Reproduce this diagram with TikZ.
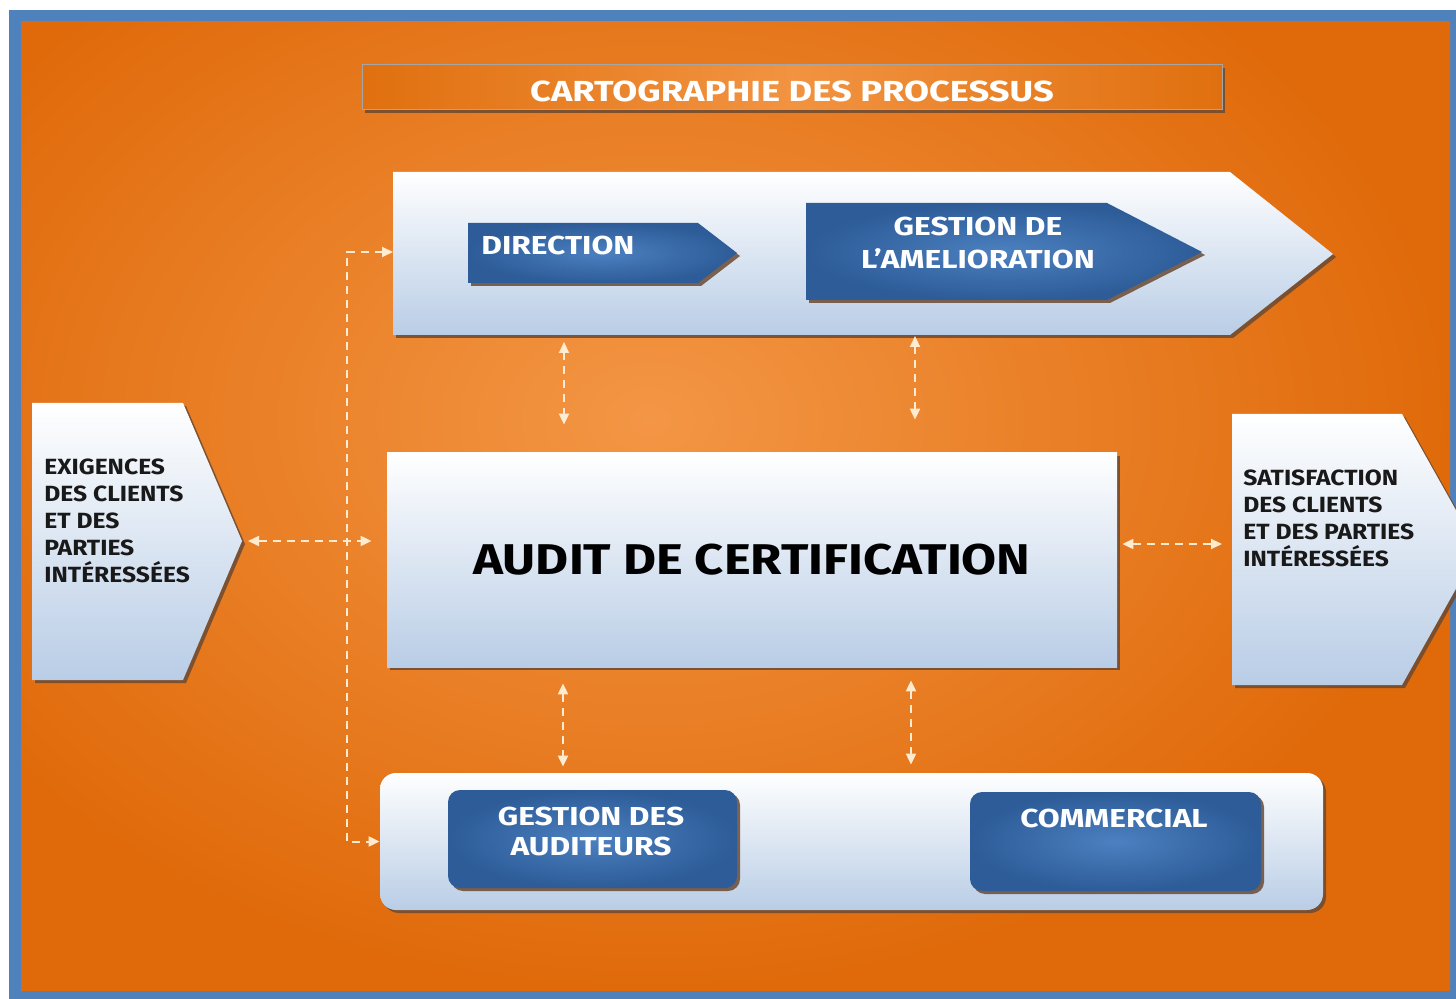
\documentclass[tikz,border=0pt]{standalone}
\usepackage{fontspec}
\setmainfont{Fira Sans}
\newfontfamily\fontTitle[FakeStretch=1.25]{Fira Sans}
\newfontfamily\fontAudit[FakeStretch=1.18]{Fira Sans}
\newfontfamily\fontWhite[FakeStretch=1.22]{Fira Sans}
\newfontfamily\fontDark[FakeStretch=1.12]{Fira Sans}
\usetikzlibrary{arrows.meta,calc,shadows}
\definecolor{blueframe}{HTML}{4F81BD}
\definecolor{orLight}{HTML}{F39645}
\definecolor{orDark}{HTML}{E06A0A}
\definecolor{paleblue}{HTML}{B9CDE6}
\definecolor{blueIn}{HTML}{4C80C0}
\definecolor{blueOut}{HTML}{2D5C98}
\definecolor{dashcol}{HTML}{FFEBCF}
\definecolor{shadowcol}{HTML}{6B4A33}
\definecolor{titleDark}{HTML}{E0700F}
\definecolor{titleLight}{HTML}{F29341}
\tikzset{
  sh/.style={drop shadow={shadow xshift=1.5pt, shadow yshift=-1.5pt, fill=shadowcol, opacity=0.85}},
  palebox/.style={top color=white, bottom color=paleblue, sh},
  bluebox/.style={inner color=blueIn, outer color=blueOut, sh},
  link/.style={draw=dashcol, line width=1pt, dash pattern=on 4pt off 3pt,
    {Triangle[length=5.5pt,width=5pt]}-{Triangle[length=5.5pt,width=5pt]}},
  darktext/.style={text=black!90, font=\fontDark\bfseries\fontsize{11}{13.5}\selectfont, align=left, anchor=west, inner sep=0},
  whitetext/.style={text=white, font=\fontWhite\bfseries\fontsize{13}{15}\selectfont, align=center, inner sep=0},
  titlebar/.style={minimum width=430pt, minimum height=22.5pt, inner sep=0, draw=gray!70, line width=0.5pt,
    left color=titleDark, right color=titleDark, middle color=titleLight, sh,
    text=white, font=\fontTitle\bfseries\fontsize{14.5}{16}\selectfont, text height=14pt, text depth=0pt},
}
\begin{document}
\begin{tikzpicture}[x=0.5pt,y=-0.5pt]
\useasboundingbox (0,0) rectangle (1456,999);
\begin{scope}
\clip (0,0) rectangle (1456,999);
\fill[white] (0,0) rectangle (1456,999);
\fill[blueframe] (9,10) rectangle (1470,1010);
\begin{scope}
\clip (21,22) rectangle (1470,993);
\shade[inner color=orLight, outer color=orDark] (-150,-150) rectangle (1450,990);
\end{scope}

% title
\node[titlebar] (title) at (792,87.5) {CARTOGRAPHIE DES PROCESSUS};

% top chevron (pilotage)
\path[palebox] (393,172) -- (1230,172) -- (1333,254) -- (1230,335) -- (393,335) -- cycle;
\coordinate (pilotW) at (393,252);
\coordinate (pilotS) at (760,335);
\path[bluebox] (468,223) -- (698,223) -- (737,253) -- (698,283) -- (468,283) -- cycle;
\node[whitetext, anchor=west] (direction) at (481,245) {DIRECTION};
\path[bluebox] (806,203) -- (1107,203) -- (1202,252) -- (1107,300) -- (806,300) -- cycle;
\node[whitetext, font=\fontWhite\bfseries\fontsize{13}{16.5}\selectfont] (amelio) at (978,243) {GESTION DE\\L’AMELIORATION};

% left input
\path[palebox] (32,403) -- (183,403) -- (242,541) -- (183,680) -- (32,680) -- cycle;
\coordinate (exigTip) at (242,541);
\node[darktext] (exig) at (44,521) {EXIGENCES\\DES CLIENTS\\ET DES\\PARTIES\\INTÉRESSÉES};

% right output
\path[palebox] (1232,414) -- (1402,414) -- (1478,549.5) -- (1402,685) -- (1232,685) -- cycle;
\coordinate (satisW) at (1232,544);
\node[darktext] (satis) at (1243,518) {SATISFACTION\\DES CLIENTS\\ET DES PARTIES\\INTÉRESSÉES};

% central
\node[palebox, minimum width=365pt, minimum height=107pt, inner sep=0,
  font=\fontAudit\bfseries\fontsize{21.5}{25}\selectfont, text=black] (audit) at (752,560) {AUDIT DE CERTIFICATION};

% support
\node[palebox, rounded corners=8pt, minimum width=471.5pt, minimum height=68.5pt, inner sep=0] (support) at (851.5,841.5) {};
\node[bluebox, rounded corners=6pt, minimum width=144.5pt, minimum height=49pt, inner sep=0] (auditeurs) at (592.5,839) {};
\node[whitetext] (auditeursT) at (591,831) {GESTION DES\\AUDITEURS};
\node[bluebox, rounded corners=6pt, minimum width=145.5pt, minimum height=49.5pt, inner sep=0] (commercial) at (1115.5,841.5) {};
\node[whitetext] (commercialT) at (1114,818) {COMMERCIAL};

% connectors
\coordinate (trunk) at (347,541);
\coordinate (vA) at (564,0);
\coordinate (vB) at (915,0);
\coordinate (vC) at (563,0);
\coordinate (vD) at (911,0);
\draw[link] (pilotW) -| (trunk) |- (support.west);
\draw[link, shorten <=3pt, shorten >=7.5pt] (exigTip) -- (exigTip -| audit.west);
\draw[link, shorten <=2.5pt, shorten >=5pt] (satisW -| audit.east) -- (satisW);
\draw[link, shorten <=3.5pt, shorten >=14pt] (vA |- pilotS) -- (vA |- audit.north);
\draw[link, shorten <=0.5pt, shorten >=16.5pt] (vB |- pilotS) -- (vB |- audit.north);
\draw[link, shorten <=8pt, shorten >=3pt] (vC |- audit.south) -- (vC |- support.north);
\draw[link, shorten <=6.5pt, shorten >=4pt] (vD |- audit.south) -- (vD |- support.north);
\end{scope}
\end{tikzpicture}
\end{document}
